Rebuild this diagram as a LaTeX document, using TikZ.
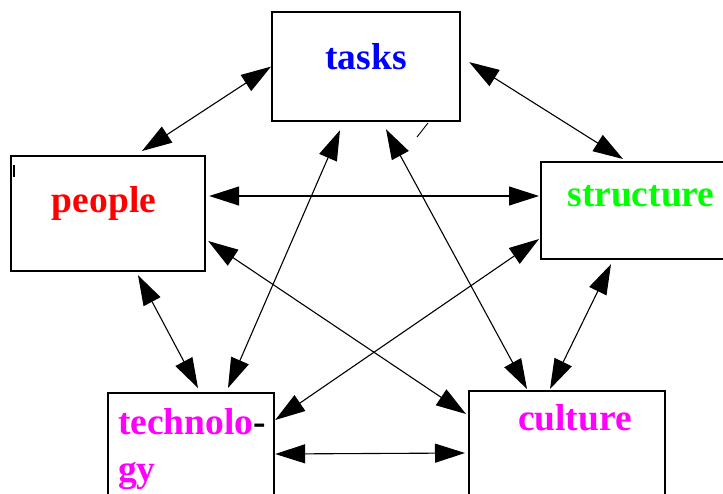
\documentclass[tikz,border=0pt]{standalone}
\usepackage{fontspec}
\setmainfont{Liberation Serif}
\usetikzlibrary{calc,arrows.meta}
\definecolor{tblue}{RGB}{0,0,255}
\definecolor{tred}{RGB}{255,0,0}
\definecolor{tgreen}{RGB}{0,255,0}
\definecolor{tmagenta}{RGB}{255,0,255}
\tikzset{
  box/.style={draw, line width=2.2pt, inner sep=0pt, anchor=north west},
  word/.style={font=\fontsize{37.5}{40}\selectfont\bfseries, inner sep=0pt},
  link/.style={line width=1.1pt, {Triangle[length=30pt,width=19pt]}-{Triangle[length=30pt,width=19pt]}}
}
\begin{document}
\begin{tikzpicture}[x=1pt,y=-1pt]
  \useasboundingbox (0,0) rectangle (723,493);
  \clip (0,0) rectangle (723,493);

  % boxes
  \node[box, minimum width=188pt, minimum height=109pt] (tasks) at (271,11) {};
  \node[box, minimum width=194pt, minimum height=115pt] (people) at (10,155) {};
  \node[box, minimum width=200pt, minimum height=97pt] (structure) at (540,161) {};
  \node[box, minimum width=166pt, minimum height=130pt] (tech) at (107,392) {};
  \node[box, minimum width=196pt, minimum height=130pt] (culture) at (468,390) {};

  % labels
  \node[word, text=tblue, anchor=base] (tasksT) at (366,69) {tasks};
  \node[word, text=tred, anchor=base] (peopleT) at (104,212) {people};
  \node[word, text=tgreen, anchor=base] (structureT) at (641,206) {structure};
  \node[word, anchor=base west] (techT1) at (118,434) {\textcolor{tmagenta}{technolo}-};
  \node[word, text=tmagenta, anchor=base west] (techT2) at (118,481) {gy};
  \node[word, text=tmagenta, anchor=base] (cultureT) at (575,430) {culture};

  % small marks
  \fill (13,165) rectangle (15,177);
  \draw[line width=0.9pt] (428,123) -- (417,137);

  % connectors
  \draw[link] (tasks.west) -- ($(people.north west)+(132,-4)$);
  \draw[link] ($(tasks.east)+(8,-4.5)$) -- ($(structure.north west)+(83,-2)$);
  \draw[link] ($(people.north east)+(3,41)$) -- ($(structure.north west)+(-1,35)$);
  \draw[link] ($(people.south west)+(128,3)$) -- ($(tech.north west)+(91,-4)$);
  \draw[link] ($(people.north east)+(2,86)$) -- ($(culture.north west)+(-2,24)$);
  \draw[link] ($(tasks.south west)+(69,8)$) -- ($(tech.north west)+(121,-4)$);
  \draw[link] ($(tasks.south west)+(115,7)$) -- ($(culture.north west)+(59,-1)$);
  \draw[link] ($(structure.north west)+(-1,78)$) -- ($(tech.north east)+(0,28)$);
  \draw[link] ($(structure.south west)+(71,4)$) -- ($(culture.north west)+(82,-1)$);
  \draw[link] ($(tech.north east)+(0,62)$) -- ($(culture.north west)+(-3,63)$);
\end{tikzpicture}
\end{document}
